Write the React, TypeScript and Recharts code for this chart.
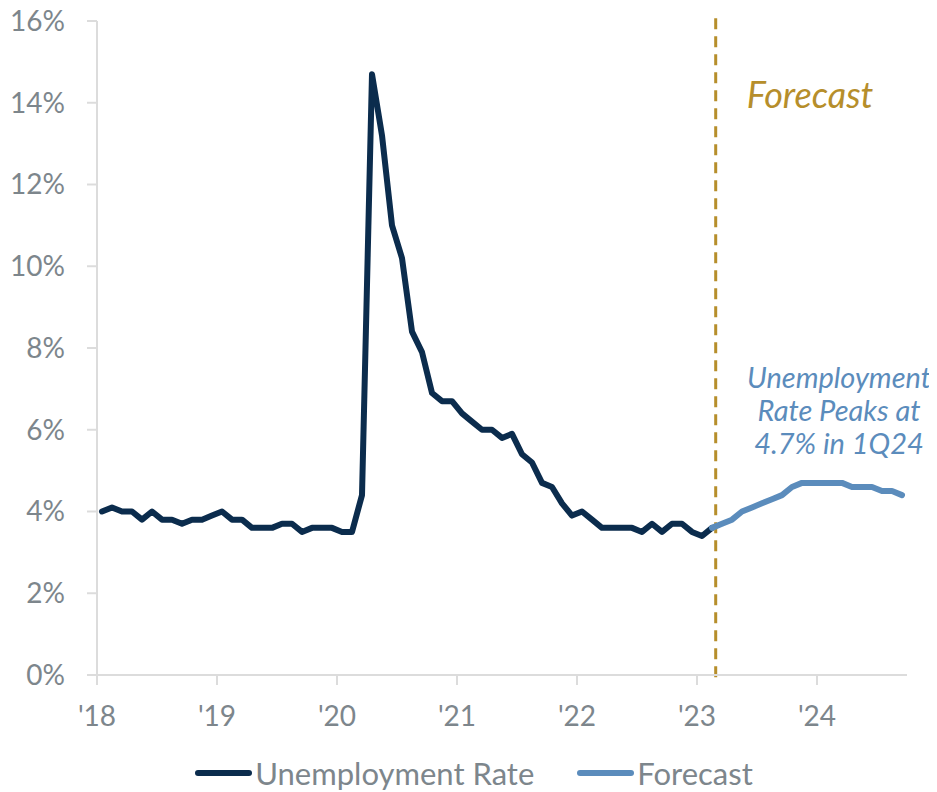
import React from "react";
import {
  LineChart,
  Line,
  XAxis,
  YAxis,
  ReferenceLine,
  ReferenceDot,
  Legend,
} from "recharts";

// Monthly unemployment rate, Jan 2018 through Feb 2023 (%)
const actualRates = [
  4.0, 4.1, 4.0, 4.0, 3.8, 4.0, 3.8, 3.8, 3.7, 3.8, 3.8, 3.9,
  4.0, 3.8, 3.8, 3.6, 3.6, 3.6, 3.7, 3.7, 3.5, 3.6, 3.6, 3.6,
  3.5, 3.5, 4.4, 14.7, 13.2, 11.0, 10.2, 8.4, 7.9, 6.9, 6.7, 6.7,
  6.4, 6.2, 6.0, 6.0, 5.8, 5.9, 5.4, 5.2, 4.7, 4.6, 4.2, 3.9,
  4.0, 3.8, 3.6, 3.6, 3.6, 3.6, 3.5, 3.7, 3.5, 3.7, 3.7, 3.5,
  3.4, 3.6,
];

// Forecast path, Feb 2023 through Sep 2024 (%)
const forecastStart = 61;
const forecastRates = [
  3.6, 3.7, 3.8, 4.0, 4.1, 4.2, 4.3, 4.4, 4.6, 4.7,
  4.7, 4.7, 4.7, 4.7, 4.6, 4.6, 4.6, 4.5, 4.5, 4.4,
];

const yearTicks = [0, 12, 24, 36, 48, 60, 72];
const yearLabels = ["'18", "'19", "'20", "'21", "'22", "'23", "'24"];
const rateTicks = [0, 2, 4, 6, 8, 10, 12, 14, 16];

const forecastDivider = 61.87;
const peakMonth = 72;
const peakRate = 4.7;

const NAVY = "#0b2c4d";
const STEEL = "#5b8cbc";
const GOLD = "#b68e2b";
const GREY_TEXT = "#7d868c";
const AXIS_GREY = "#dcdcdc";
const FONT = "Lato, sans-serif";

const totalMonths = forecastStart + forecastRates.length;
const data = Array.from({ length: totalMonths }, (_, i) => ({
  // points sit mid-month
  t: i + 0.5,
  rate: i < actualRates.length ? actualRates[i] : undefined,
  forecast:
    i >= forecastStart ? forecastRates[i - forecastStart] : undefined,
}));

const legendItems = [
  { label: "Unemployment Rate", color: NAVY },
  { label: "Forecast", color: STEEL },
];

function ChartLegend() {
  return (
    <div
      style={{
        display: "flex",
        justifyContent: "center",
        alignItems: "center",
        height: 36,
        paddingLeft: 33,
        fontFamily: FONT,
        fontSize: 31,
        color: GREY_TEXT,
      }}
    >
      {legendItems.map((item, i) => (
        <div
          key={item.label}
          style={{
            display: "flex",
            alignItems: "center",
            marginLeft: i === 0 ? 0 : 43,
          }}
        >
          <svg width={57} height={8} style={{ marginRight: 3 }}>
            <line
              x1={3}
              y1={4}
              x2={54}
              y2={4}
              stroke={item.color}
              strokeWidth={6}
              strokeLinecap="round"
            />
          </svg>
          <span>{item.label}</span>
        </div>
      ))}
    </div>
  );
}

function ForecastLabel(props: any) {
  const vb = props.viewBox || {};
  return (
    <text
      x={vb.x + 31}
      y={vb.y + 90}
      fill={GOLD}
      fontFamily={FONT}
      fontStyle="italic"
      fontSize={36}
    >
      Forecast
    </text>
  );
}

function PeakLabel(props: any) {
  const vb = props.viewBox || {};
  const cx = vb.x + (vb.width || 0) / 2 + 17;
  const cy = vb.y + (vb.height || 0) / 2;
  const lines = ["Unemployment", "Rate Peaks at", "4.7% in 1Q24"];
  return (
    <text
      textAnchor="middle"
      fill={STEEL}
      fontFamily={FONT}
      fontStyle="italic"
      fontSize={29}
    >
      {lines.map((line, i) => (
        <tspan key={line} x={cx} y={cy - 95 + i * 33}>
          {line}
        </tspan>
      ))}
    </text>
  );
}

export default function App() {
  return (
    <LineChart
      width={929}
      height={784}
      data={data}
      margin={{ top: 13, right: 30, bottom: 1, left: 0 }}
    >
      <XAxis
        dataKey="t"
        type="number"
        domain={[0, 81]}
        ticks={yearTicks}
        tickFormatter={(v: number) => yearLabels[yearTicks.indexOf(v)]}
        height={80}
        stroke={AXIS_GREY}
        strokeWidth={2}
        tickSize={10}
        tickMargin={21}
        tick={{ fill: GREY_TEXT, fontSize: 28, fontFamily: FONT }}
        interval={0}
      />
      <YAxis
        type="number"
        domain={[0, 16]}
        ticks={rateTicks}
        tickFormatter={(v: number) => `${v}%`}
        width={89}
        stroke={AXIS_GREY}
        strokeWidth={2}
        tickSize={10}
        tickMargin={22}
        tick={{ fill: GREY_TEXT, fontSize: 28, fontFamily: FONT }}
        interval={0}
      />
      <ReferenceLine
        segment={[
          { x: forecastDivider, y: 16.07 },
          { x: forecastDivider, y: -0.19 },
        ]}
        ifOverflow="visible"
        stroke={GOLD}
        strokeWidth={3}
        strokeDasharray="11 7"
        label={<ForecastLabel />}
      />
      <Line
        dataKey="rate"
        name="Unemployment Rate"
        stroke={NAVY}
        strokeWidth={6}
        strokeLinejoin="round"
        strokeLinecap="round"
        dot={false}
        activeDot={false}
        isAnimationActive={false}
      />
      <Line
        dataKey="forecast"
        name="Forecast"
        stroke={STEEL}
        strokeWidth={6}
        strokeLinejoin="round"
        strokeLinecap="round"
        dot={false}
        activeDot={false}
        isAnimationActive={false}
      />
      <ReferenceDot
        x={peakMonth + 0.5}
        y={peakRate}
        r={1}
        fill="none"
        stroke="none"
        label={<PeakLabel />}
      />
      <Legend verticalAlign="bottom" content={<ChartLegend />} />
    </LineChart>
  );
}
